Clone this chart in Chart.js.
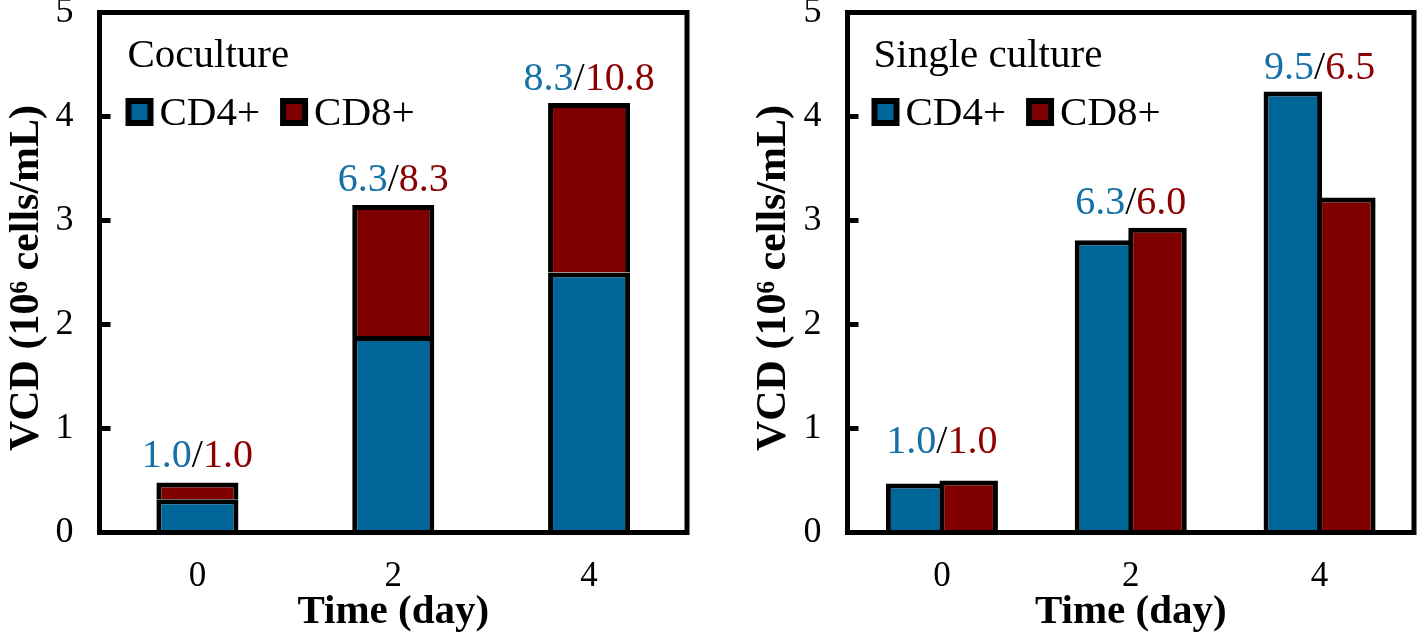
<!DOCTYPE html>
<html>
<head>
<meta charset="utf-8">
<script src="https://cdn.jsdelivr.net/npm/chart.js@4.4.1/dist/chart.umd.min.js"></script>
<style>
html, body { margin: 0; padding: 0; background: #fff; }
#wrap { position: relative; width: 1418px; height: 637px; overflow: hidden; }
canvas { position: absolute; top: 0; }
#left { left: 0; }
#right { left: 709px; }
</style>
</head>
<body>
<div id="wrap">
  <canvas id="left" width="709" height="637"></canvas>
  <canvas id="right" width="709" height="637"></canvas>
</div>
<script>
// Данные (10^6 cells/mL)
const days = ['0', '2', '4'];
const cocultureCd4 = [0.32, 1.89, 2.50];
const cocultureCd8 = [0.16, 1.26, 1.63];
const singleCd4 = [0.47, 2.81, 4.24];
const singleCd8 = [0.50, 2.93, 3.22];

// Кратность роста над столбиками
const cocultureFoldCd4 = ['1.0', '6.3', '8.3'];
const cocultureFoldCd8 = ['1.0', '8.3', '10.8'];
const singleFoldCd4 = ['1.0', '6.3', '9.5'];
const singleFoldCd8 = ['1.0', '6.0', '6.5'];

const BLUE = '#006699';
const RED = '#800000';
const BLUE_TEXT = '#1570a6';
const RED_TEXT = '#8b0000';
const SERIF = "'Liberation Serif', 'Times New Roman', serif";

Chart.defaults.font.family = SERIF;
Chart.defaults.color = '#000';

// Рамка, внутренние штрихи, подписи осей, легенда и кратности
const panelPlugin = {
    id: 'panel',
    afterDatasetsDraw(chart) {
        const { ctx, chartArea: a, scales: { y } } = chart;
        ctx.save();
        ctx.strokeStyle = '#000';
        ctx.lineWidth = 5;
        ctx.strokeRect(a.left, a.top, a.right - a.left, a.bottom - a.top);
        ctx.beginPath();
        [1, 2, 3, 4].forEach(v => {
            const py = y.getPixelForValue(v);
            ctx.moveTo(a.left, py);
            ctx.lineTo(a.left + 11, py);
        });
        ctx.stroke();
        ctx.restore();
    },
    afterDraw(chart, args, opts) {
        const { ctx, chartArea: a, scales: { x } } = chart;
        ctx.save();

        // Подпись оси Y
        ctx.save();
        ctx.font = 'bold 42px ' + SERIF;
        ctx.fillStyle = '#000';
        ctx.textAlign = 'center';
        ctx.textBaseline = 'alphabetic';
        ctx.translate(opts.yTitleX, 278);
        ctx.rotate(-Math.PI / 2);
        ctx.fillText('VCD (10⁶ cells/mL)', 0, 0);
        ctx.restore();

        // Название панели
        ctx.font = '41px ' + SERIF;
        ctx.fillStyle = '#000';
        ctx.textBaseline = 'alphabetic';
        ctx.textAlign = 'left';
        ctx.fillText(opts.label, a.left + opts.labelDx, 67);

        // Легенда
        let lx = a.left + opts.labelDx - 2;
        chart.data.datasets.forEach(ds => {
            ctx.fillStyle = '#000';
            ctx.fillRect(lx, 98, 28, 28);
            ctx.fillStyle = ds.backgroundColor;
            ctx.fillRect(lx + 6, 104, 16, 16);
            ctx.fillStyle = '#000';
            ctx.fillText(ds.label, lx + 34, 125);
            lx += 34 + ctx.measureText(ds.label).width + 20;
        });

        // Кратности над столбиками
        ctx.font = '40px ' + SERIF;
        days.forEach((d, i) => {
            let top = Infinity;
            chart.data.datasets.forEach((ds, di) => {
                const el = chart.getDatasetMeta(di).data[i];
                top = Math.min(top, el.y);
            });
            const parts = [
                [opts.cd4[i], BLUE_TEXT],
                ['/', '#000'],
                [opts.cd8[i], RED_TEXT]
            ];
            const total = parts.reduce((s, p) => s + ctx.measureText(p[0]).width, 0);
            let tx = x.getPixelForValue(i) - total / 2;
            const ty = top - opts.lift[i];
            parts.forEach(p => {
                ctx.fillStyle = p[1];
                ctx.fillText(p[0], tx, ty);
                tx += ctx.measureText(p[0]).width;
            });
        });
        ctx.restore();
    }
};

function makeChart(id, cd4, cd8, stacked, panel, axisWidth, padRight) {
    return new Chart(document.getElementById(id), {
        type: 'bar',
        data: {
            labels: days,
            datasets: [
                { label: 'CD4+', data: cd4, backgroundColor: BLUE, borderColor: '#000', borderWidth: 5 },
                { label: 'CD8+', data: cd8, backgroundColor: RED, borderColor: '#000', borderWidth: 5 }
            ]
        },
        options: {
            responsive: false,
            animation: false,
            devicePixelRatio: 1,
            layout: { padding: { top: 12.5, right: padRight, bottom: 0, left: 0 } },
            datasets: {
                bar: stacked
                    ? { categoryPercentage: 0.419, barPercentage: 1 }
                    : { categoryPercentage: 0.567, barPercentage: 1.093 }
            },
            plugins: {
                legend: { display: false },
                tooltip: { enabled: false },
                panel: panel
            },
            scales: {
                x: {
                    stacked: stacked,
                    grid: { display: false },
                    border: { display: false },
                    ticks: { font: { size: 35 }, padding: 15 },
                    title: {
                        display: true,
                        text: 'Time (day)',
                        font: { size: 41, weight: 'bold' },
                        padding: { top: 32, bottom: 0 }
                    },
                    afterFit: s => { s.height = 104.5; s.paddingLeft = 0; s.paddingRight = 0; }
                },
                y: {
                    stacked: stacked,
                    min: 0,
                    max: 5,
                    grid: { display: false },
                    border: { display: false },
                    ticks: { stepSize: 1, font: { size: 36 }, padding: 18 },
                    afterFit: s => { s.width = axisWidth; s.paddingTop = 0; s.paddingBottom = 0; }
                }
            }
        },
        plugins: [panelPlugin]
    });
}

makeChart('left', cocultureCd4, cocultureCd8, true,
    { label: 'Coculture', labelDx: 28, yTitleX: 38, cd4: cocultureFoldCd4, cd8: cocultureFoldCd8, lift: [16, 14, 13] },
    99.5, 22);

makeChart('right', singleCd4, singleCd8, false,
    { label: 'Single culture', labelDx: 26, yTitleX: 76, cd4: singleFoldCd4, cd8: singleFoldCd8, lift: [28, 14, 13] },
    138.5, 4);
</script>
</body>
</html>
